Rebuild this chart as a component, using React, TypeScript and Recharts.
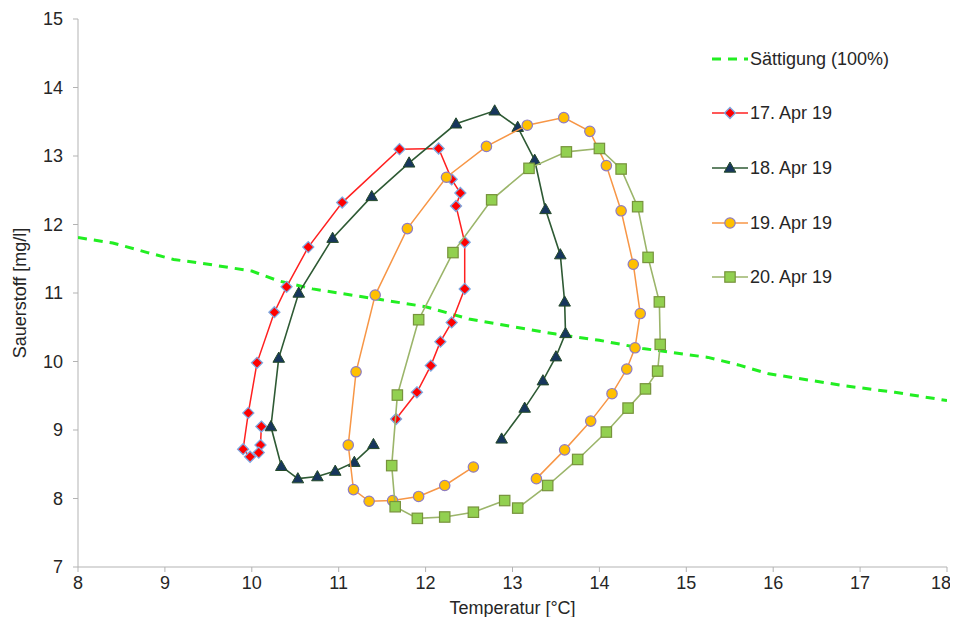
import React from 'react';
import { ScatterChart, Scatter, XAxis, YAxis, Legend } from 'recharts';

// Oxygen saturation (100%) curve
const satTemp = [8.0, 8.4, 8.8, 9.1, 9.5, 10.0, 10.3, 10.7, 11.0, 11.5, 12.0, 12.5, 13.0, 13.5, 14.0, 14.5, 14.9, 15.25, 15.6, 15.95, 16.2, 16.8, 17.4, 18.0];
const satO2 = [11.81, 11.73, 11.59, 11.49, 11.42, 11.32, 11.18, 11.06, 11.0, 10.9, 10.8, 10.62, 10.51, 10.4, 10.31, 10.19, 10.12, 10.06, 9.95, 9.82, 9.77, 9.65, 9.55, 9.43];

// Daily loops: temperature [°C] and dissolved oxygen [mg/l]
const apr17Temp = [10.11, 10.1, 10.08, 9.98, 9.9, 9.96, 10.06, 10.26, 10.4, 10.65, 11.04, 11.7, 12.15, 12.3, 12.4, 12.35, 12.45, 12.45, 12.3, 12.17, 12.06, 11.9, 11.66];
const apr17O2 = [9.05, 8.78, 8.67, 8.61, 8.72, 9.25, 9.98, 10.72, 11.09, 11.67, 12.32, 13.1, 13.11, 12.66, 12.46, 12.27, 11.74, 11.06, 10.57, 10.29, 9.94, 9.55, 9.16];

const apr18Temp = [11.4, 11.18, 10.96, 10.755, 10.53, 10.34, 10.22, 10.31, 10.54, 10.93, 11.38, 11.81, 12.35, 12.795, 13.06, 13.255, 13.38, 13.55, 13.6, 13.61, 13.5, 13.35, 13.14, 12.875];
const apr18O2 = [8.79, 8.53, 8.4, 8.32, 8.29, 8.47, 9.05, 10.05, 11.0, 11.8, 12.41, 12.9, 13.47, 13.66, 13.42, 12.94, 12.22, 11.56, 10.87, 10.41, 10.07, 9.72, 9.32, 8.87];

const apr19Temp = [12.55, 12.22, 11.92, 11.62, 11.35, 11.17, 11.11, 11.2, 11.42, 11.79, 12.24, 12.7, 13.17, 13.59, 13.89, 14.08, 14.25, 14.39, 14.47, 14.41, 14.315, 14.145, 13.9, 13.6, 13.275];
const apr19O2 = [8.46, 8.19, 8.03, 7.97, 7.96, 8.13, 8.78, 9.85, 10.97, 11.94, 12.69, 13.14, 13.45, 13.56, 13.36, 12.86, 12.2, 11.42, 10.7, 10.2, 9.89, 9.53, 9.13, 8.71, 8.29];

const apr20Temp = [12.91, 12.55, 12.22, 11.905, 11.65, 11.61, 11.675, 11.92, 12.315, 12.76, 13.19, 13.62, 14.0, 14.25, 14.44, 14.56, 14.69, 14.7, 14.67, 14.53, 14.33, 14.08, 13.75, 13.405, 13.06];
const apr20O2 = [7.97, 7.8, 7.73, 7.71, 7.88, 8.48, 9.51, 10.61, 11.59, 12.36, 12.82, 13.06, 13.11, 12.81, 12.26, 11.52, 10.87, 10.25, 9.86, 9.6, 9.32, 8.97, 8.57, 8.19, 7.86];

const xTicks = [8, 9, 10, 11, 12, 13, 14, 15, 16, 17, 18];
const yTicks = [7, 8, 9, 10, 11, 12, 13, 14, 15];

const seriesNames = ['Sättigung (100%)', '17. Apr 19', '18. Apr 19', '19. Apr 19', '20. Apr 19'];

const zip = (xs: number[], ys: number[]) => xs.map((x, i) => ({ x, y: ys[i] }));

const satData = zip(satTemp, satO2);
const d17 = zip(apr17Temp, apr17O2);
const d18 = zip(apr18Temp, apr18O2);
const d19 = zip(apr19Temp, apr19O2);
const d20 = zip(apr20Temp, apr20O2);

const FONT = '"Liberation Sans", Arial, sans-serif';
const FS = 18;
const TEXT = '#262626';
const AXIS = '#b3b3b3';

const COLORS = {
  sat: '#22ee22',
  l17: '#ff2020',
  l18: '#2e5a34',
  l19: '#f79646',
  l20: '#9bb56a',
};

const Diamond = ({ cx, cy }: any) => (
  <polygon
    points={`${cx},${cy - 5.5} ${cx + 5.5},${cy} ${cx},${cy + 5.5} ${cx - 5.5},${cy}`}
    fill="#ff0000"
    stroke="#7fa7e0"
    strokeWidth={1.3}
  />
);

const Triangle = ({ cx, cy }: any) => (
  <polygon
    points={`${cx},${cy - 6} ${cx + 5.8},${cy + 4.2} ${cx - 5.8},${cy + 4.2}`}
    fill="#17365d"
    stroke="#254a2a"
    strokeWidth={1}
  />
);

const Dot = ({ cx, cy }: any) => (
  <circle cx={cx} cy={cy} r={5.2} fill="#ffc000" stroke="#8e7cc3" strokeWidth={1.2} />
);

const Square = ({ cx, cy }: any) => (
  <rect x={cx - 5.2} y={cy - 5.2} width={10.4} height={10.4} fill="#92d050" stroke="#77933c" strokeWidth={1.2} />
);

const NoMarker = () => <g />;

const LegendBox = () => {
  const rows = [21, 75, 130, 185, 239];
  const lineColors = [COLORS.sat, COLORS.l17, COLORS.l18, COLORS.l19, COLORS.l20];
  const markers = [null, Diamond, Triangle, Dot, Square];
  return (
    <svg width={250} height={270} style={{ overflow: 'visible' }}>
      {rows.map((y, i) => {
        const M = markers[i];
        return (
          <g key={seriesNames[i]}>
            {i === 0 ? (
              <line x1={4} x2={40} y1={y} y2={y} stroke={lineColors[i]} strokeWidth={3} strokeDasharray="9 7" />
            ) : (
              <line x1={4} x2={40} y1={y} y2={y} stroke={lineColors[i]} strokeWidth={1.5} />
            )}
            {M ? <M cx={22} cy={y} /> : null}
            <text x={42} y={y} dy="0.36em" fontSize={FS} fontFamily={FONT} fill={TEXT}>
              {seriesNames[i]}
            </text>
          </g>
        );
      })}
    </svg>
  );
};

const XTitle = ({ viewBox }: any) => (
  <text
    x={viewBox.x + viewBox.width / 2}
    y={600}
    dy="0.36em"
    textAnchor="middle"
    fontSize={FS}
    fontFamily={FONT}
    fill={TEXT}
  >
    Temperatur [°C]
  </text>
);

const YTitle = ({ viewBox }: any) => {
  const cx = 12;
  const cy = viewBox.y + viewBox.height / 2;
  return (
    <text
      x={cx}
      y={cy}
      dy="0.36em"
      textAnchor="middle"
      fontSize={FS}
      fontFamily={FONT}
      fill={TEXT}
      transform={`rotate(-90 ${cx} ${cy})`}
    >
      Sauerstoff [mg/l]
    </text>
  );
};

export default function App() {
  return (
    <div style={{ width: 942, height: 609, overflow: 'visible' }}>
      <ScatterChart
        width={942}
        height={609}
        margin={{ top: 11, right: 3, bottom: 0, left: 0 }}
        style={{ fontFamily: FONT, overflow: 'visible' }}
      >
        <XAxis
          type="number"
          dataKey="x"
          domain={[8, 18]}
          ticks={xTicks}
          allowDataOverflow
          height={50}
          stroke={AXIS}
          tickSize={5}
          tickMargin={4}
          tick={{ fill: TEXT, fontSize: FS, fontFamily: FONT }}
          label={<XTitle />}
        />
        <YAxis
          type="number"
          dataKey="y"
          domain={[7, 15]}
          ticks={yTicks}
          allowDataOverflow
          width={70}
          stroke={AXIS}
          tickSize={5}
          tickMargin={10}
          tick={{ fill: TEXT, fontSize: FS, fontFamily: FONT }}
          label={<YTitle />}
        />
        <Scatter
          name={seriesNames[0]}
          data={satData}
          line={{ stroke: COLORS.sat, strokeWidth: 3, strokeDasharray: '9 7' }}
          lineType="joint"
          shape={NoMarker}
          isAnimationActive={false}
        />
        <Scatter
          name={seriesNames[1]}
          data={d17}
          line={{ stroke: COLORS.l17, strokeWidth: 1.5 }}
          lineType="joint"
          shape={Diamond}
          isAnimationActive={false}
        />
        <Scatter
          name={seriesNames[2]}
          data={d18}
          line={{ stroke: COLORS.l18, strokeWidth: 1.6 }}
          lineType="joint"
          shape={Triangle}
          isAnimationActive={false}
        />
        <Scatter
          name={seriesNames[3]}
          data={d19}
          line={{ stroke: COLORS.l19, strokeWidth: 1.5 }}
          lineType="joint"
          shape={Dot}
          isAnimationActive={false}
        />
        <Scatter
          name={seriesNames[4]}
          data={d20}
          line={{ stroke: COLORS.l20, strokeWidth: 1.6 }}
          lineType="joint"
          shape={Square}
          isAnimationActive={false}
        />
        <Legend
          layout="horizontal"
          align="center"
          verticalAlign="middle"
          content={<LegendBox />}
          wrapperStyle={{ position: 'absolute', left: 700, top: 30, width: 250, height: 270 }}
        />
      </ScatterChart>
    </div>
  );
}
